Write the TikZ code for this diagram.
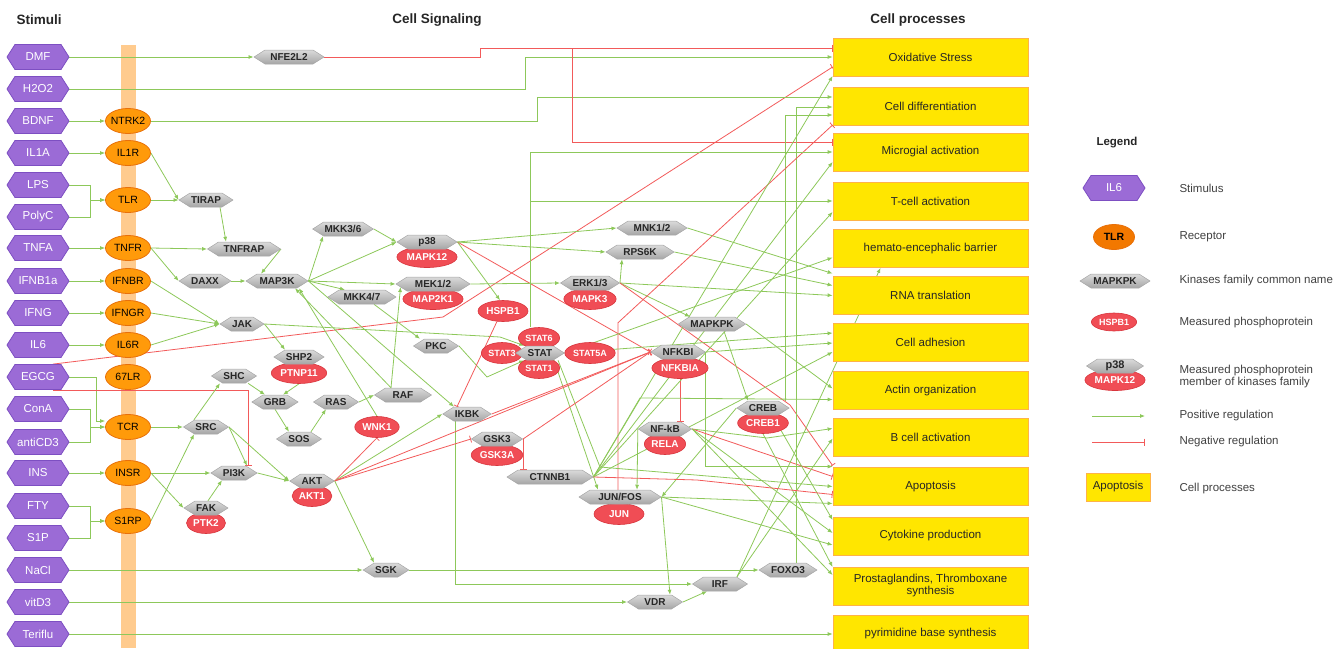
\documentclass[tikz,border=0pt]{standalone}
\usepackage{fontspec}
\setmainfont{Liberation Sans}
\usepackage{tikz}
\usetikzlibrary{backgrounds}
\usetikzlibrary{shapes.geometric}
\usetikzlibrary{shapes.symbols}
\usetikzlibrary{arrows.meta}
\definecolor{stimfill}{HTML}{9B6BD6}
\definecolor{stimdraw}{HTML}{7D4FC2}
\definecolor{recfill}{HTML}{FF9A0A}
\definecolor{recdraw}{HTML}{E8700A}
\definecolor{recdark}{HTML}{F27800}
\definecolor{kintop}{HTML}{DADADA}
\definecolor{kinbot}{HTML}{A6A6A6}
\definecolor{phosfill}{HTML}{F04D55}
\definecolor{phosdraw}{HTML}{D8353D}
\definecolor{procfill}{HTML}{FFE600}
\definecolor{procdraw}{HTML}{FFB347}
\definecolor{posgreen}{HTML}{8DC85A}
\definecolor{negred}{HTML}{F25A5A}
\definecolor{barorange}{HTML}{FFCB8E}
\tikzset{
  stimulus/.style={signal, signal to=east and west, signal pointer angle=115,
    fill=stimfill, draw=stimdraw, line width=0.8pt, text=white,
    minimum width=62pt, minimum height=25pt, inner xsep=1pt, inner ysep=0pt,
    font=\fontsize{11.5}{12}\selectfont}, % Stimuli
  receptor/.style={ellipse, fill=recfill, draw=recdraw, line width=0.8pt,
    minimum width=45pt, minimum height=25pt, inner xsep=-6pt, inner ysep=0pt,
    font=\fontsize{10.5}{12}\selectfont}, % Rezeptoren
  kinase/.style={signal, signal to=east and west, signal pointer angle=65,
    top color=kintop, bottom color=kinbot, draw=kinbot, line width=0.5pt,
    minimum height=14pt, inner xsep=1pt, inner ysep=0.5pt, text=black!85,
    font=\fontsize{10}{11}\selectfont\bfseries}, % Kinasen
  phospho/.style={ellipse, fill=phosfill, draw=phosdraw, line width=0.6pt,
    text=white, minimum height=21pt, inner xsep=1pt, inner ysep=0pt,
    font=\fontsize{10}{11}\selectfont\bfseries}, % Phosphoproteine
  cellproc/.style={rectangle, fill=procfill, draw=procdraw, line width=0.8pt,
    minimum width=195pt, minimum height=38pt, align=center, text=black!85,
    font=\fontsize{11.5}{12}\selectfont},
  membrane/.style={rectangle, fill=barorange, inner sep=0pt,
    minimum width=15pt, minimum height=603pt},
  heading/.style={text=black!85, font=\fontsize{13.5}{15}\selectfont\bfseries},
  lgtext/.style={anchor=west, align=left, text=black!75,
    font=\fontsize{11.5}{12}\selectfont},
  posreg/.style={draw=posgreen, line width=0.8pt, -{Latex[length=5pt,width=4pt]}}, % positive Regulation
  negreg/.style={draw=negred, line width=0.8pt, -{Bar[width=7pt]}} % negative Regulation
}
\begin{document}
\begin{tikzpicture}[x=1pt, y=-1pt, >=Latex]
\useasboundingbox (0,0) rectangle (1337,648);

%Ueberschriften
\node[heading, anchor=west] (hStim) at (13,20) {Stimuli};
\node[heading] (hSig) at (437,20) {Cell Signaling};
\node[heading] (hProc) at (918,20) {Cell processes};

%Stimuli
\node[stimulus] (DMF) at (38,57) {DMF};
\node[stimulus] (H2O2) at (38,89) {H2O2};
\node[stimulus] (BDNF) at (38,121) {BDNF};
\node[stimulus] (IL1A) at (38,153) {IL1A};
\node[stimulus] (LPS) at (38,185) {LPS};
\node[stimulus] (PolyC) at (38,217) {PolyC};
\node[stimulus] (TNFA) at (38,248) {TNFA};
\node[stimulus] (IFNB1a) at (38,281) {IFNB1a};
\node[stimulus] (IFNG) at (38,313) {IFNG};
\node[stimulus] (IL6) at (38,345) {IL6};
\node[stimulus] (EGCG) at (38,377) {EGCG};
\node[stimulus] (ConA) at (38,409) {ConA};
\node[stimulus] (antiCD3) at (38,442) {antiCD3};
\node[stimulus] (INS) at (38,473) {INS};
\node[stimulus] (FTY) at (38,506) {FTY};
\node[stimulus] (S1P) at (38,538) {S1P};
\node[stimulus] (NaCl) at (38,570) {NaCl};
\node[stimulus] (vitD3) at (38,602) {vitD3};
\node[stimulus] (Teriflu) at (38,634) {Teriflu};

%Rezeptoren
\node[receptor] (NTRK2) at (128,121) {NTRK2};
\node[receptor] (IL1R) at (128,153) {IL1R};
\node[receptor] (TLR) at (128,200) {TLR};
\node[receptor] (TNFR) at (128,248) {TNFR};
\node[receptor] (IFNBR) at (128,281) {IFNBR};
\node[receptor] (IFNGR) at (128,313) {IFNGR};
\node[receptor] (IL6R) at (128,345) {IL6R};
\node[receptor] (LR67) at (128,377) {67LR};
\node[receptor] (TCR) at (128,427) {TCR};
\node[receptor] (INSR) at (128,473) {INSR};
\node[receptor] (S1RP) at (128,521) {S1RP};

%Kinasen und Phosphoproteine
\node[kinase, minimum width=70pt] (NFE2L2) at (289,57) {NFE2L2};
\node[kinase] (TIRAP) at (206,200) {TIRAP};
\node[kinase, minimum width=73pt] (TNFRAP) at (244,249) {TNFRAP};
\node[kinase] (DAXX) at (205,281) {DAXX};
\node[kinase, minimum width=62pt] (MAP3K) at (277,281) {MAP3K};
\node[kinase] (JAK) at (242,324) {JAK};
\node[kinase] (MKK36) at (343,229) {MKK3/6};
\node[phospho] (MAPK12) at (427,257) {MAPK12};
\node[kinase, minimum width=60pt] (p38) at (427,242) {p38};
\node[phospho] (MAP2K1) at (433,299) {MAP2K1};
\node[kinase, minimum width=74pt] (MEK12) at (433,284) {MEK1/2};
\node[kinase, minimum width=68pt] (MKK47) at (362,297) {MKK4/7};
\node[kinase] (PKC) at (436,346) {PKC};
\node[phospho] (HSPB1) at (503,311) {HSPB1};
\node[phospho, font=\fontsize{9}{10}\selectfont\bfseries] (STAT3) at (502,353) {STAT3};
\node[phospho, font=\fontsize{9}{10}\selectfont\bfseries] (STAT5A) at (590,353) {STAT5A};
\node[phospho, font=\fontsize{9}{10}\selectfont\bfseries] (STAT6) at (539,338) {STAT6};
\node[phospho, font=\fontsize{9}{10}\selectfont\bfseries] (STAT1) at (539,368) {STAT1};
\node[kinase] (STAT) at (540,353) {STAT};
\node[phospho] (PTNP11) at (299,373) {PTNP11};
\node[kinase] (SHP2) at (299,357) {SHP2};
\node[kinase] (SHC) at (234,376) {SHC};
\node[kinase] (GRB) at (275,402) {GRB};
\node[kinase] (RAS) at (336,402) {RAS};
\node[kinase, minimum width=57pt] (RAF) at (403,395) {RAF};
\node[kinase] (SOS) at (299,439) {SOS};
\node[kinase] (SRC) at (206,427) {SRC};
\node[kinase] (PI3K) at (234,473) {PI3K};
\node[phospho] (PTK2) at (206,523) {PTK2};
\node[kinase] (FAK) at (206,508) {FAK};
\node[phospho] (AKT1) at (312,496) {AKT1};
\node[kinase] (AKT) at (312,481) {AKT};
\node[phospho] (WNK1) at (377,427) {WNK1};
\node[kinase] (IKBK) at (467,414) {IKBK};
\node[phospho] (GSK3A) at (497,455) {GSK3A};
\node[kinase] (GSK3) at (497,439) {GSK3};
\node[kinase, minimum width=86pt] (CTNNB1) at (550,477) {CTNNB1};
\node[kinase] (SGK) at (386,570) {SGK};
\node[kinase, minimum width=70pt] (MNK12) at (652,228) {MNK1/2};
\node[kinase, minimum width=68pt] (RPS6K) at (640,252) {RPS6K};
\node[phospho] (MAPK3) at (590,299) {MAPK3};
\node[kinase] (ERK13) at (590,283) {ERK1/3};
\node[kinase] (MAPKPK) at (712,324) {MAPKPK};
\node[phospho] (NFKBIA) at (680,368) {NFKBIA};
\node[kinase] (NFKBI) at (678,352) {NFKBI};
\node[phospho] (CREB1) at (763,423) {CREB1};
\node[kinase] (CREB) at (763,408) {CREB};
\node[phospho] (RELA) at (665,444) {RELA};
\node[kinase] (NFkB) at (665,429) {NF-kB};
\node[phospho, minimum width=50pt] (JUN) at (619,514) {JUN};
\node[kinase, minimum width=82pt] (JUNFOS) at (620,497) {JUN/FOS};
\node[kinase] (FOXO3) at (788,570) {FOXO3};
\node[kinase, minimum width=55pt] (IRF) at (720,584) {IRF};
\node[kinase, minimum width=55pt] (VDR) at (655,602) {VDR};

%Zellprozesse
\node[cellproc] (Oxi) at (930.5,57) {Oxidative Stress};
\node[cellproc] (Diff) at (930.5,106) {Cell differentiation};
\node[cellproc] (Micro) at (930.5,152) {Microgial activation};
\node[cellproc] (Tcell) at (930.5,201) {T-cell activation};
\node[cellproc] (Hemato) at (930.5,248.5) {hemato-encephalic barrier};
\node[cellproc] (RNA) at (930.5,295.5) {RNA translation};
\node[cellproc] (Adh) at (930.5,342) {Cell adhesion};
\node[cellproc] (Actin) at (930.5,390.5) {Actin organization};
\node[cellproc] (Bcell) at (930.5,437.5) {B cell activation};
\node[cellproc] (Apop) at (930.5,486.5) {Apoptosis};
\node[cellproc] (Cyto) at (930.5,536) {Cytokine production};
\node[cellproc] (Prosta) at (930.5,586) {Prostaglandins, Thromboxane\\synthesis};
\node[cellproc] (Pyri) at (930.5,634) {pyrimidine base synthesis};

%Legende
\node[heading, anchor=west, font=\fontsize{11.5}{13}\selectfont\bfseries] (hLeg) at (1093,143) {Legend};
\node[stimulus] (lgStim) at (1114,188) {IL6};
\node[lgtext] (lgStimT) at (1176,188) {Stimulus};
\node[receptor, fill=recdark, minimum width=41pt, font=\fontsize{10.5}{12}\selectfont\bfseries] (lgRec) at (1114,237) {TLR};
\node[lgtext] (lgRecT) at (1176,237) {Receptor};
\node[kinase, minimum width=70pt] (lgKin) at (1115,281) {MAPKPK};
\node[lgtext] (lgKinT) at (1176,281) {Kinases family common name};
\node[phospho, minimum height=18pt, font=\fontsize{9}{10}\selectfont\bfseries] (lgPhos) at (1114,322) {HSPB1};
\node[lgtext] (lgPhosT) at (1176,323) {Measured phosphoprotein};
\node[phospho] (lgMAPK12) at (1115,380) {MAPK12};
\node[kinase, minimum width=57pt, font=\fontsize{11}{12}\selectfont\bfseries] (lgP38) at (1115,366) {p38};
\node[lgtext] (lgMemT) at (1176,377) {Measured phosphoprotein\\member of kinases family};
\coordinate (lgPosA) at (1092,416);
\coordinate (lgPosB) at (1145,416);
\node[lgtext] (lgPosT) at (1176,416) {Positive regulation};
\coordinate (lgNegA) at (1092,442);
\coordinate (lgNegB) at (1145,442);
\node[lgtext] (lgNegT) at (1176,442) {Negative regulation};
\node[cellproc, minimum width=64pt, minimum height=28pt] (lgProc) at (1118,487) {Apoptosis};
\node[lgtext] (lgProcT) at (1176,489) {Cell processes};

\begin{scope}[on background layer]
\node[membrane] (bar) at (128.5,346.5) {};

%Legende Pfeile
\draw[posreg] (lgPosA) -- (lgPosB);
\draw[negreg] (lgNegA) -- (lgNegB);

%Stimuli -> Rezeptoren
\draw[posreg] (DMF.east) -- (NFE2L2.west);
\draw[posreg] (H2O2.east) -- ++(456,0) |- (Oxi.west);
\draw[posreg] (BDNF.east) -- (NTRK2.west);
\draw[posreg] (IL1A.east) -- (IL1R.west);
\draw[posreg] (LPS.east) -- ++(21,0) |- (TLR.west);
\draw[posreg] (PolyC.east) -- ++(21,0) |- (TLR.west);
\draw[posreg] (TNFA.east) -- (TNFR.west);
\draw[posreg] (IFNB1a.east) -- (IFNBR.west);
\draw[posreg] (IFNG.east) -- (IFNGR.west);
\draw[posreg] (IL6.east) -- (IL6R.west);
\draw[posreg] (EGCG.east) -- ++(27,0) |- ([yshift=6pt]TCR.west);
\draw[posreg] (ConA.east) -- ++(21,0) |- (TCR.west);
\draw[posreg] (antiCD3.east) -- ++(21,0) |- (TCR.west);
\draw[posreg] (INS.east) -- (INSR.west);
\draw[posreg] (FTY.east) -- ++(21,0) |- (S1RP.west);
\draw[posreg] (S1P.east) -- ++(21,0) |- (S1RP.west);
\draw[posreg] (NaCl.east) -- (SGK.west);
\draw[posreg] (vitD3.east) -- (VDR.west);
\draw[posreg] (Teriflu.east) -- (Pyri.west);
\draw[negreg] ([xshift=15pt]EGCG.north) -- (443,317) -- ([yshift=-10pt]Oxi.west);
\draw[negreg] ([xshift=15pt]EGCG.south) -| ([xshift=14pt]PI3K.north);

%Rezeptoren -> Kinasen
\draw[posreg] (NTRK2.east) -- ++(386,0) |- ([yshift=9pt]Diff.west);
\draw[posreg] (IL1R.east) -- (TIRAP.west);
\draw[posreg] (TLR.east) -- (TIRAP.west);
\draw[posreg] (TNFR.east) -- (TNFRAP.west);
\draw[posreg] (TNFR.east) -- (DAXX.west);
\draw[posreg] (IFNBR.east) -- (JAK.west);
\draw[posreg] (IFNGR.east) -- (JAK.west);
\draw[posreg] (IL6R.east) -- (JAK.west);
\draw[posreg] (TCR.east) -- (SRC.west);
\draw[posreg] (INSR.east) -- (PI3K.west);
\draw[posreg] (INSR.east) -- (FAK.west);
\draw[posreg] (S1RP.east) -- ([xshift=-12pt]SRC.south);

%Kinasen
\draw[negreg] (NFE2L2.east) -- ++(156,0) |- ([yshift=9pt]Oxi.west);
\draw[negreg] ([xshift=-260pt,yshift=9pt]Oxi.west) |- ([yshift=10pt]Micro.west);
\draw[posreg] ([xshift=14pt]TIRAP.south) -- ([xshift=-18pt]TNFRAP.north);
\draw[posreg] (TNFRAP.east) -- ([xshift=-16pt]MAP3K.north);
\draw[posreg] (DAXX.east) -- (MAP3K.west);
\draw[posreg] (JAK.east) -- ([xshift=-14pt]SHP2.north);
\draw[posreg] (JAK.east) -- (500,337) -- (STAT6.south west);
\draw[posreg] (MAP3K.east) -- ([xshift=-20pt]MKK36.south);
\draw[posreg] (MAP3K.east) -- (p38.west);
\draw[posreg] (MAP3K.east) -- (MEK12.west);
\draw[posreg] (MAP3K.east) -- ([xshift=-17pt]MKK47.north);
\draw[posreg] (MAP3K.east) -- ([xshift=-13pt]IKBK.north);
\draw[posreg] (MKK36.east) -- (p38.west);
\draw[posreg] ([xshift=12pt]MKK47.south) -- ([xshift=-16pt]PKC.north);
\draw[posreg] (PKC.east) -- (487,377) -- (STAT1.north west);
\draw[posreg] ([xshift=-12pt]SRC.north) -- ([xshift=-14pt]SHC.south);
\draw[posreg] (SRC.east) -- ([xshift=13pt]PI3K.north);
\draw[posreg] (SRC.east) -- (AKT.west);
\draw[posreg] ([xshift=2pt]FAK.north) -- ([xshift=-12pt]PI3K.south);
\draw[posreg] (PI3K.east) -- (AKT.west);
\draw[posreg] ([xshift=14pt]SHC.south) -- ([xshift=-10pt]GRB.north);
\draw[posreg] (PTNP11.south) -- ([xshift=8pt]GRB.north);
\draw[posreg] (GRB.south) -- ([xshift=-10pt]SOS.north);
\draw[posreg] ([xshift=12pt]SOS.north) -- ([xshift=-10pt]RAS.south);
\draw[posreg] (RAS.east) -- (RAF.west);
\draw[posreg] ([xshift=-12pt]RAF.north) -- ([xshift=5pt,yshift=-3pt]MEK12.west);
\draw[posreg] ([xshift=-12pt]RAF.north) -- ([xshift=18pt]MAP3K.south);
\draw[posreg] (WNK1.north) -- ([xshift=22pt]MAP3K.south);
\draw[posreg] (p38.east) -- ([xshift=-3pt]HSPB1.north);
\draw[negreg] (p38.east) -- (NFKBI.west);
\draw[posreg] (p38.east) -- (MNK12.west);
\draw[posreg] (p38.east) -- (RPS6K.west);
\draw[negreg] (HSPB1.240) -- ([xshift=-10pt]IKBK.north);
\draw[posreg] (MEK12.east) -- (ERK13.west);
\draw[posreg] (ERK13.east) -- ([xshift=-18pt]RPS6K.south);
\draw[posreg] (ERK13.east) -- ([xshift=-22pt]MAPKPK.north);
\draw[posreg] (ERK13.east) -- (RNA.west);
\draw[negreg] (ERK13.east) -- (790,405) -- ([yshift=21pt]Apop.west);
\draw[posreg] (MNK12.east) -- ([yshift=22pt]RNA.west);
\draw[posreg] (RPS6K.east) -- ([yshift=10pt]RNA.west);
\draw[posreg] ([xshift=12pt]MAPKPK.south) -- ([xshift=-15pt]CREB.north);
\draw[posreg] (MAPKPK.east) -- ([yshift=2pt]Actin.west);
\draw[posreg] (NFKBI.east) |- ([yshift=20pt]Apop.west);
\draw[posreg] (NFKBI.east) -- ([yshift=-1pt]Adh.west);
\draw[negreg] (NFKBIA.south) -- (NFKBIA.south |- NFkB.north);
\draw[posreg] (NFkB.west) -- ([xshift=17pt]JUNFOS.north);
\draw[posreg] (NFkB.east) -- (767,438) -- ([yshift=9pt]Bcell.west);
\draw[negreg] (NFkB.east) -- ([yshift=10pt]Apop.west);
\draw[posreg] (NFkB.east) -- ([yshift=3pt]Cyto.west);
\draw[posreg] (NFkB.east) -- ([yshift=11pt]Prosta.west);
\draw[posreg] (CREB.west) -- (JUNFOS.east);
\draw[posreg] ([xshift=22pt]CREB.north) |- ([yshift=-9pt]Diff.west);
\draw[posreg] (CREB1.south east) -- ([yshift=16pt]Cyto.west);
\draw[posreg] (CREB1.south) -- ([yshift=19pt]Prosta.west);
\draw[posreg] ([xshift=8pt]FOXO3.north) |- ([yshift=-1pt]Diff.west);
\draw[posreg] (JUNFOS.east) -- ([xshift=15pt]VDR.north);
\draw[posreg] (JUNFOS.east) -- ([yshift=-17pt]Apop.west);
\draw[posreg] (JUNFOS.east) -- ([yshift=-9pt]Cyto.west);
\draw[negreg] ([xshift=-2pt]JUNFOS.north) -- ++(0,-167) -- ([yshift=-19pt]Diff.west);
\draw[posreg] ([xshift=14pt]STAT.south) -- ([xshift=-22pt]JUNFOS.north);
\draw[posreg] ([xshift=18pt]STAT.south) -- (600,467) -- (Apop.west);
\draw[posreg] ([xshift=-9pt]STAT6.north) |- (Micro.west);
\draw[posreg] ([xshift=-9pt]STAT6.north) |- (Tcell.west);
\draw[posreg] (STAT.east) -- ([yshift=9pt]Adh.west);
\draw[posreg] (STAT.east) -- ([yshift=-9pt]Hemato.west);
\draw[negreg] (IKBK.east) -- (NFKBI.west);
\draw[posreg] ([xshift=-12pt]IKBK.south) |- (IRF.west);
\draw[negreg] (AKT.east) -- (WNK1.south);
\draw[posreg] (AKT.east) -- (IKBK.west);
\draw[negreg] (AKT.east) -- (GSK3.west);
\draw[negreg] (AKT.east) -- (NFKBI.west);
\draw[posreg] (AKT.east) -- ([xshift=-12pt]SGK.north);
\draw[negreg] (GSK3.east) -- (NFKBI.west);
\draw[negreg] (GSK3.east) -- (GSK3.east |- CTNNB1.north);
\draw[posreg] (SGK.east) -- (FOXO3.west);
\draw[posreg] (VDR.east) -- ([xshift=-13pt]IRF.south);
\draw[posreg] ([xshift=17pt]IRF.north) -- ([yshift=-1pt]Bcell.west);
\draw[posreg] ([xshift=17pt]IRF.north) -- ([xshift=-50pt]Hemato.south);
\draw[posreg] (CTNNB1.east) -- ([yshift=-19pt]Oxi.west);
\draw[posreg] (CTNNB1.east) -- ([yshift=-10pt]Micro.west);
\draw[posreg] (CTNNB1.east) -- ([yshift=-11pt]Tcell.west);
\draw[posreg] (CTNNB1.east) -- ([yshift=-10pt]Adh.west);
\draw[posreg] (CTNNB1.east) -- (640,398) -- ([yshift=-9pt]Actin.west);
\draw[negreg] (CTNNB1.east) -- (697,480) -- ([yshift=-8pt]Apop.west);
\end{scope}

\end{tikzpicture}
\end{document}
